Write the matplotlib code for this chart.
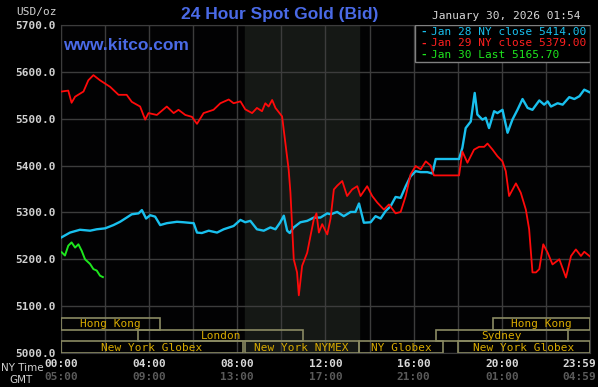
import matplotlib.pyplot as plt
from matplotlib.patches import Rectangle

# (hour since 00:00 NY time, price in USD/oz)
jan28 = [(0.03, 5247), (0.41, 5257), (0.86, 5263), (1.32, 5261), (1.62, 5264), (2.0, 5266),
         (2.38, 5273), (2.68, 5280), (2.98, 5289), (3.21, 5296), (3.52, 5298), (3.67, 5305),
         (3.86, 5287), (4.05, 5294), (4.27, 5291), (4.5, 5273), (4.8, 5277), (5.26, 5280),
         (5.56, 5279), (6.02, 5277), (6.17, 5257), (6.39, 5256), (6.7, 5261), (7.08, 5257),
         (7.38, 5264), (7.83, 5271), (8.14, 5284), (8.36, 5279), (8.59, 5282), (8.89, 5264),
         (9.2, 5261), (9.5, 5268), (9.73, 5264), (9.95, 5279), (10.11, 5293), (10.26, 5261),
         (10.38, 5256), (10.56, 5268), (10.86, 5279), (11.17, 5282), (11.47, 5289), (11.77, 5289),
         (12.08, 5298), (12.23, 5296), (12.53, 5301), (12.83, 5292), (13.14, 5301), (13.36, 5301),
         (13.52, 5319), (13.74, 5278), (14.05, 5279), (14.27, 5292), (14.5, 5287), (14.73, 5303),
         (14.95, 5313), (15.18, 5333), (15.41, 5331), (15.64, 5356), (15.86, 5377), (16.09, 5388),
         (16.32, 5386), (16.62, 5386), (16.85, 5383), (17.0, 5414), (18.06, 5414), (18.21, 5438),
         (18.36, 5480), (18.59, 5494), (18.77, 5555), (18.89, 5509), (19.12, 5498), (19.27, 5502),
         (19.42, 5480), (19.65, 5516), (19.8, 5512), (20.03, 5519), (20.26, 5470), (20.48, 5498),
         (20.71, 5519), (20.94, 5542), (21.17, 5523), (21.39, 5519), (21.7, 5539), (21.92, 5530),
         (22.08, 5537), (22.23, 5526), (22.53, 5533), (22.76, 5530), (23.06, 5546), (23.29, 5542),
         (23.52, 5548), (23.74, 5562), (24.0, 5556)]

jan29 = [(0.03, 5558), (0.33, 5560), (0.48, 5534), (0.64, 5547), (1.02, 5558), (1.24, 5582),
         (1.47, 5593), (1.77, 5582), (2.0, 5575), (2.23, 5568), (2.61, 5551), (2.98, 5551),
         (3.21, 5536), (3.59, 5526), (3.82, 5498), (3.97, 5512), (4.35, 5508), (4.8, 5526),
         (5.11, 5512), (5.33, 5519), (5.64, 5508), (5.94, 5504), (6.17, 5489), (6.47, 5512),
         (6.92, 5519), (7.23, 5533), (7.61, 5541), (7.83, 5533), (8.14, 5537), (8.36, 5520),
         (8.67, 5512), (8.89, 5523), (9.12, 5516), (9.27, 5533), (9.42, 5526), (9.58, 5540),
         (9.73, 5523), (10.03, 5505), (10.18, 5448), (10.33, 5391), (10.41, 5342), (10.56, 5200),
         (10.71, 5172), (10.79, 5123), (10.94, 5186), (11.17, 5214), (11.32, 5250), (11.47, 5285),
         (11.59, 5298), (11.7, 5257), (11.85, 5275), (12.08, 5253), (12.23, 5287), (12.38, 5349),
         (12.53, 5357), (12.76, 5367), (12.98, 5335), (13.21, 5349), (13.44, 5356), (13.59, 5335),
         (13.89, 5356), (14.12, 5335), (14.35, 5321), (14.65, 5306), (14.88, 5317), (15.18, 5298),
         (15.41, 5301), (15.64, 5335), (15.86, 5381), (16.09, 5399), (16.32, 5392), (16.55, 5409),
         (16.77, 5400), (16.92, 5379), (18.06, 5379), (18.21, 5430), (18.44, 5406), (18.74, 5434),
         (18.97, 5440), (19.2, 5440), (19.35, 5447), (19.58, 5434), (19.8, 5420), (20.03, 5409),
         (20.18, 5388), (20.33, 5335), (20.64, 5362), (20.86, 5342), (21.09, 5306), (21.24, 5264),
         (21.39, 5172), (21.55, 5172), (21.7, 5179), (21.88, 5232), (22.08, 5214), (22.3, 5189),
         (22.61, 5200), (22.91, 5161), (23.14, 5207), (23.36, 5221), (23.59, 5207), (23.74, 5216),
         (24.0, 5206)]

jan30 = [(0.03, 5215), (0.18, 5208), (0.33, 5229), (0.48, 5236), (0.64, 5225), (0.79, 5232),
         (0.94, 5218), (1.09, 5200), (1.32, 5190), (1.47, 5179), (1.62, 5176), (1.77, 5165),
         (1.9, 5162)]

legend_labels = ["Jan 28 NY close 5414.00", "Jan 29 NY close 5379.00", "Jan 30 Last 5165.70"]

y_ticks = [5000, 5100, 5200, 5300, 5400, 5500, 5600, 5700]
x_tick_hours = [0, 4, 8, 12, 16, 20, 23.5]
ny_labels = ["00:00", "04:00", "08:00", "12:00", "16:00", "20:00", "23:59"]
gmt_labels = ["05:00", "09:00", "13:00", "17:00", "21:00", "01:00", "04:59"]

# trading sessions: name, start hour, end hour, row (0 = bottom)
session_names = ["Hong Kong", "London", "New York Globex", "New York NYMEX", "NY Globex",
                 "Sydney", "Hong Kong", "New York Globex"]
session_start = [0.0, 3.5, 0.0, 8.33, 13.5, 17.0, 19.6, 18.0]
session_end = [4.5, 11.0, 8.25, 13.5, 17.35, 23.0, 24.0, 24.0]
session_row = [2, 1, 0, 0, 0, 1, 2, 0]
nymex_start, nymex_end = 8.33, 13.5

mono = "DejaVu Sans Mono"
fig = plt.figure(figsize=(5.98, 3.87), dpi=100, facecolor="black")
ax = fig.add_axes([0.102, 0.0879, 0.8846, 0.8475], facecolor="#020203")

ax.axvspan(nymex_start, nymex_end, color="#151815", zorder=0)

ax.set_xlim(0, 24)
ax.set_ylim(5000, 5700)
ax.set_xticks(range(0, 25, 2))
ax.set_yticks(y_ticks)
ax.grid(True, color="#3c3c3c", linewidth=1.0, zorder=1)
ax.tick_params(length=0, labelbottom=False)
ax.set_yticklabels([f"{v:.1f}" for v in y_ticks], fontfamily=mono, fontsize=8,
                   fontweight="bold", color="#d0d0d0")
ax.tick_params(axis="y", pad=4)
for s in ax.spines.values():
    s.set_color("#3c3c3c")

row_h = 25
for name, a, b, r in zip(session_names, session_start, session_end, session_row):
    y0 = 5000 + r * row_h
    ax.add_patch(Rectangle((a, y0), b - a, row_h, facecolor="none", edgecolor="#8a8a62",
                           linewidth=1.2, zorder=3))
    ax.text((a + b) / 2, y0 + row_h / 2 - 1, name, ha="center", va="center", fontfamily=mono,
            fontsize=8, color="#d8aa00", zorder=4)

for pts, c, lw, z in [(jan28, "#19c0ee", 1.7, 5), (jan29, "#ff0a0a", 1.3, 6),
                      (jan30, "#1ee61e", 1.4, 7)]:
    t, v = zip(*pts)
    ax.plot(t, v, color=c, linewidth=lw, zorder=z)

# legend box in the top-right corner
leg_colors = ["#19c0ee", "#ff2020", "#1ee61e"]
lx0 = (414 - 61) / 528
ax.add_patch(Rectangle((lx0, 1 - 37 / 328), 1 - lx0, 37 / 328, transform=ax.transAxes,
                       facecolor="black", edgecolor="#808080", linewidth=1.0, zorder=8))
for i, (lab, c) in enumerate(zip(legend_labels, leg_colors)):
    y = 1 - (7 + 11.5 * i) / 328
    ax.text(lx0 + 0.011, y, "-", transform=ax.transAxes, ha="left", va="center",
            fontfamily=mono, fontsize=8, fontweight="bold", color=c, zorder=9)
    ax.text(lx0 + 0.030, y, lab, transform=ax.transAxes, ha="left", va="center",
            fontfamily=mono, fontsize=8, color=c, zorder=9)

# titles and labels
fig.text(280 / 598, 1 - 15 / 387, "24 Hour Spot Gold (Bid)", ha="center", va="center",
         fontfamily="Liberation Sans", fontsize=12.5, fontweight="bold", color="#4a6ae6")
fig.text(63 / 598, 1 - 46 / 387, "www.kitco.com", ha="left", va="center",
         fontfamily="Liberation Sans", fontsize=12.5, fontweight="bold", color="#4a6ae6")
fig.text(581 / 598, 1 - 16 / 387, "January 30, 2026 01:54", ha="right", va="center",
         fontfamily=mono, fontsize=8, color="#d8d8d8")
fig.text(57 / 598, 1 - 12 / 387, "USD/oz", ha="right", va="center",
         fontfamily=mono, fontsize=8, color="#d0d0d0")
fig.text(1 / 598, 1 - 368 / 387, "NY Time", ha="left", va="center",
         fontfamily="DejaVu Sans", fontsize=7.5, color="#d0d0d0")
fig.text(9 / 598, 1 - 380 / 387, "GMT", ha="left", va="center",
         fontfamily="DejaVu Sans", fontsize=7.5, color="#d0d0d0")
for h, ny, gmt in zip(x_tick_hours, ny_labels, gmt_labels):
    ax.text(h, -0.035, ny, transform=ax.get_xaxis_transform(), ha="center", va="center",
            fontfamily=mono, fontsize=8, fontweight="bold", color="#d8d8d8")
    ax.text(h, -0.072, gmt, transform=ax.get_xaxis_transform(), ha="center", va="center",
            fontfamily=mono, fontsize=8, fontweight="bold", color="#5a5a5a")

fig.savefig("out.png", dpi=100, facecolor="black")
